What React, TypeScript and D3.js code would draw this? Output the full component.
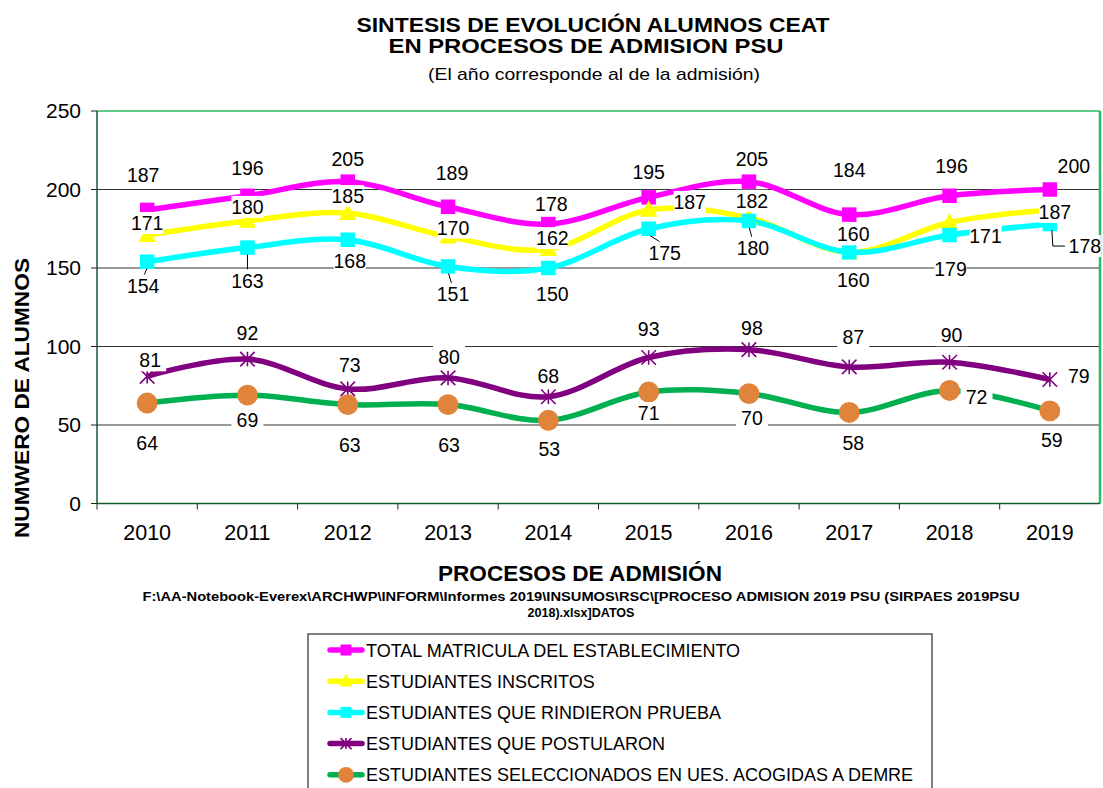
import React from 'react';
import * as d3 from 'd3';

// data
const years = ['2010', '2011', '2012', '2013', '2014', '2015', '2016', '2017', '2018', '2019'];
const totalMatricula = [187, 196, 205, 189, 178, 195, 205, 184, 196, 200];
const inscritos = [171, 180, 185, 170, 162, 187, 182, 160, 179, 187];
const rindieron = [154, 163, 168, 151, 150, 175, 180, 160, 171, 178];
const postularon = [81, 92, 73, 80, 68, 93, 98, 87, 90, 79];
const seleccionados = [64, 69, 63, 63, 53, 71, 70, 58, 72, 59];
const yTicks = [0, 50, 100, 150, 200, 250];

const seriesNames = [
  'TOTAL MATRICULA DEL ESTABLECIMIENTO',
  'ESTUDIANTES INSCRITOS',
  'ESTUDIANTES QUE RINDIERON PRUEBA',
  'ESTUDIANTES QUE POSTULARON',
  'ESTUDIANTES SELECCIONADOS EN UES. ACOGIDAS A DEMRE',
];

// label offsets (text centre relative to the point), placed by hand like in excel
const labelShift: number[][][] = [
  [[-4, -35], [0, -28], [0, -23], [4, -34], [3, -20], [0, -25], [3, -23], [0, -45], [2, -30], [24, -24]],
  [[0, -12], [0, -14], [0, -17], [5, -9], [4, -11], [41, -8], [3, -17], [4, -18], [1, 47], [5, 2]],
  [[-4, 24], [0, 33], [2, 21], [5, 28], [4, 26], [16, 24], [4, 27], [4, 28], [36, 1], [35, 22]],
  [[3, -16], [0, -26], [2, -24], [1, -21], [0, -21], [0, -28], [3, -22], [4, -30], [2, -27], [29, -3]],
  [[0, 40], [0, 25], [2, 40], [1, 40], [1, 29], [0, 21], [3, 24], [4, 31], [27, 7], [2, 29]],
];
const leaders = [
  [], [],
  [0, 1, 3, 5, 6],
  [], [],
];

const FONT = '"Liberation Sans", Arial, Helvetica, sans-serif';

const series = [
  { name: seriesNames[0], values: totalMatricula, color: '#ff00ff', marker: 'square', mcolor: '#ff00ff' },
  { name: seriesNames[1], values: inscritos, color: '#ffff00', marker: 'triangle', mcolor: '#ffff00' },
  { name: seriesNames[2], values: rindieron, color: '#00ffff', marker: 'square', mcolor: '#00ffff' },
  { name: seriesNames[3], values: postularon, color: '#800080', marker: 'star', mcolor: '#800080' },
  { name: seriesNames[4], values: seleccionados, color: '#00b050', marker: 'circle', mcolor: '#e0843c' },
];

function Marker({ type, x, y, color, size }: any) {
  if (type === 'square') {
    return <rect x={x - size / 2} y={y - size / 2} width={size} height={size} fill={color} />;
  }
  if (type === 'triangle') {
    const s = size * 0.6;
    return <path d={`M${x},${y - s * 1.1}L${x + s},${y + s * 0.8}L${x - s},${y + s * 0.8}Z`} fill={color} />;
  }
  if (type === 'circle') {
    return <circle cx={x} cy={y} r={size * 0.72} fill={color} />;
  }
  const s = size / 2;
  return (
    <g stroke={color} strokeWidth={1.6}>
      <line x1={x - s} y1={y - s} x2={x + s} y2={y + s} />
      <line x1={x - s} y1={y + s} x2={x + s} y2={y - s} />
      <line x1={x} y1={y - s} x2={x} y2={y + s} />
    </g>
  );
}

export default function App() {
  const width = 1103;
  const height = 788;
  const left = 97, right = 1100, top = 111, bottom = 503.5;

  const x = d3.scalePoint<string>().domain(years).range([left, right]).padding(0.5);
  const y = d3.scaleLinear().domain([0, 250]).range([bottom, top]);
  const step = x.step();

  const line = d3.line<number>()
    .x((d, i) => x(years[i]) as number)
    .y(d => y(d))
    .curve(d3.curveCardinal.tension(0));

  const labels: any[] = [];
  series.forEach((s, si) => {
    s.values.forEach((v, i) => {
      const px = x(years[i]) as number;
      const py = y(v);
      const [dx, dy] = labelShift[si][i];
      labels.push({ key: `${si}-${i}`, px, py, lx: px + dx, ly: py + dy, text: String(v), si, i });
    });
  });

  return (
    <svg width={width} height={height} style={{ position: 'absolute', left: 0, top: 0, background: '#fff' }}
         fontFamily={FONT}>
      <rect width={width} height={height} fill="#fff" />

      {/* titles */}
      <text x={593} y={32} textAnchor="middle" fontSize={21} fontWeight="bold"
            textLength={473} lengthAdjust="spacingAndGlyphs">SINTESIS DE EVOLUCIÓN ALUMNOS CEAT</text>
      <text x={586} y={53} textAnchor="middle" fontSize={21} fontWeight="bold"
            textLength={395} lengthAdjust="spacingAndGlyphs">EN PROCESOS DE ADMISION PSU</text>
      <text x={594} y={80} textAnchor="middle" fontSize={17}
            textLength={332} lengthAdjust="spacingAndGlyphs">(El año corresponde al de la admisión)</text>

      {/* grid */}
      {yTicks.filter(t => t > 0 && t < 250).map(t => (
        <line key={t} x1={left} x2={right} y1={y(t)} y2={y(t)} stroke="#333" strokeWidth={1} />
      ))}

      {/* plot frame */}
      <line x1={left} x2={right} y1={top} y2={top} stroke="#2fb860" strokeWidth={1.5} />
      <line x1={right} x2={right} y1={top} y2={bottom} stroke="#2fb860" strokeWidth={2.5} />
      <line x1={left} x2={left} y1={top} y2={bottom} stroke="#125c30" strokeWidth={1.5} />
      <line x1={left} x2={right} y1={bottom} y2={bottom} stroke="#125c30" strokeWidth={1.5} />

      {/* y axis ticks */}
      {yTicks.map(t => (
        <g key={t}>
          <line x1={left - 6} x2={left} y1={y(t)} y2={y(t)} stroke="#222" />
          <text x={left - 16} y={y(t) + 7} textAnchor="end" fontSize={21}>{t}</text>
        </g>
      ))}

      {/* x axis ticks */}
      {years.map((yr, i) => (
        <g key={yr}>
          <line x1={left + i * step} x2={left + i * step} y1={bottom} y2={bottom + 6} stroke="#222" />
          <text x={x(yr)} y={540} textAnchor="middle" fontSize={21.5}>{yr}</text>
        </g>
      ))}

      {/* lines */}
      {series.map(s => (
        <path key={s.name} d={line(s.values) as string} fill="none" stroke={s.color} strokeWidth={5.5} />
      ))}

      {/* markers */}
      {series.map((s, si) => s.values.map((v, i) => (
        <Marker key={`${si}-${i}`} type={s.marker} x={x(years[i])} y={y(v)} color={s.mcolor} size={14.5} />
      )))}

      {/* leader lines */}
      {labels.filter(l => leaders[l.si].includes(l.i)).map(l => (
        <line key={'ld' + l.key} x1={l.px + (l.lx - l.px) * 0.1} y1={l.py + 7}
              x2={l.lx - (l.lx - l.px) * 0.3} y2={l.ly - 11} stroke="#000" strokeWidth={1} />
      ))}
      {labels.filter(l => l.si === 2 && l.i === 9).map(l => (
        <path key="elbow" d={`M${l.px + 2},${l.py + 6}L${l.px + 3},${l.ly}L${l.lx - 20},${l.ly}`}
              fill="none" stroke="#000" strokeWidth={1} />
      ))}

      {/* data labels with white boxes */}
      {labels.map(l => (
        <g key={'lb' + l.key}>
          <rect x={l.lx - 16} y={l.ly - 11} width={32} height={22} fill="#fff" />
          <text x={l.lx} y={l.ly + 7} textAnchor="middle" fontSize={19.5}>{l.text}</text>
        </g>
      ))}

      {/* axis titles */}
      <text transform="translate(29,398) rotate(-90)" textAnchor="middle" fontSize={21} fontWeight="bold"
            textLength={280} lengthAdjust="spacingAndGlyphs">
        NUMWERO DE ALUMNOS
      </text>
      <text x={580} y={581} textAnchor="middle" fontSize={22} fontWeight="bold"
            textLength={284} lengthAdjust="spacingAndGlyphs">PROCESOS DE ADMISIÓN</text>
      <text x={581} y={601} textAnchor="middle" fontSize={13} fontWeight="bold"
            textLength={877} lengthAdjust="spacingAndGlyphs">
        F:\AA-Notebook-Everex\ARCHWP\INFORM\Informes 2019\INSUMOS\RSC\[PROCESO ADMISION 2019 PSU (SIRPAES 2019PSU
      </text>
      <text x={581} y={617} textAnchor="middle" fontSize={13} fontWeight="bold"
            textLength={107} lengthAdjust="spacingAndGlyphs">2018).xlsx]DATOS</text>

      {/* legend */}
      <rect x={308} y={634} width={624} height={170} fill="#fff" stroke="#555" strokeWidth={1.5} />
      {series.map((s, i) => {
        const ly = 650 + i * 31.2;
        return (
          <g key={'lg' + s.name}>
            <line x1={330} x2={362} y1={ly} y2={ly} stroke={s.color} strokeWidth={5.5} strokeLinecap="round" />
            <Marker type={s.marker} x={346} y={ly} color={s.mcolor} size={11} />
            <text x={366} y={ly + 6.5} fontSize={18}>{s.name}</text>
          </g>
        );
      })}
    </svg>
  );
}
